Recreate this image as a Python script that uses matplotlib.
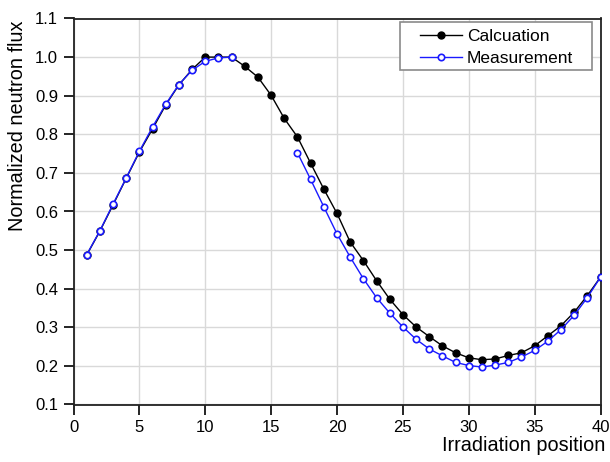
import numpy as np
import matplotlib
matplotlib.use("Agg")
import matplotlib.pyplot as plt
from matplotlib.patches import Rectangle

plt.rcParams['font.family'] = ['Liberation Sans', 'DejaVu Sans']

positions = list(range(1, 41))
calculation = [0.487, 0.549, 0.617, 0.686, 0.754, 0.814, 0.876, 0.928, 0.968, 1.000,
               1.000, 1.000, 0.976, 0.948, 0.901, 0.841, 0.793, 0.725, 0.658, 0.595,
               0.521, 0.473, 0.421, 0.373, 0.333, 0.301, 0.276, 0.252, 0.234, 0.221,
               0.216, 0.218, 0.227, 0.234, 0.252, 0.278, 0.304, 0.339, 0.382, 0.430]
measurement = [0.488, 0.550, 0.619, 0.687, 0.756, 0.819, 0.878, 0.929, 0.966, 0.989,
               0.998, 1.000, None, None, None, None, 0.752, 0.683, 0.612, 0.542,
               0.482, 0.426, 0.377, 0.337, 0.301, 0.269, 0.244, 0.226, 0.209, 0.201,
               0.197, 0.202, 0.209, 0.223, 0.240, 0.264, 0.294, 0.331, 0.377, 0.430]
meas = np.array([np.nan if v is None else v for v in measurement])

xticks = [0, 5, 10, 15, 20, 25, 30, 35, 40]
yticks = [0.1, 0.2, 0.3, 0.4, 0.5, 0.6, 0.7, 0.8, 0.9, 1.0, 1.1]

W, H = 610, 462
fig = plt.figure(figsize=(W/100, H/100), dpi=100)
ax = fig.add_axes([73.5/W, 1-404.5/H, (600.5-73.5)/W, (404.5-18.5)/H])

ax.plot(positions, calculation, color='black', lw=1.0, marker='o', ms=5,
        mfc='black', mec='black', label='Calcuation', zorder=3)
ax.plot(positions, meas, color='#1a1aff', lw=1.0, marker='o', ms=4.6,
        mfc='white', mec='#1a1aff', mew=1.2, label='Measurement', zorder=4)

ax.set_xlim(0, 40)
ax.set_ylim(0.1, 1.1)
ax.set_xticks(xticks)
ax.set_yticks(yticks)
ax.set_yticklabels([f"{v:.1f}" for v in yticks])
ax.grid(True, color='#d9d9d9', lw=1.0)
ax.set_axisbelow(True)
ax.tick_params(direction='out', length=7, width=1.2, labelsize=12, colors='black', pad=4)
for s in ax.spines.values():
    s.set_linewidth(1.3)
    s.set_color('#222222')

ax.set_xlabel('Irradiation position', fontsize=14.3, ha='right', x=1.01, labelpad=1)
ax.set_ylabel('Normalized neutron flux', fontsize=14.3, ha='right', y=0.995, labelpad=6)

# legend frame (drawn separately to reproduce the wide left padding)
frame = Rectangle((400/W, 1-70/H), 192/W, 47.7/H, transform=fig.transFigure,
                  facecolor='white', edgecolor='#8a8a8a', lw=1.2, zorder=4.5, clip_on=False)
ax.add_artist(frame)
leg = ax.legend(loc='upper left', bbox_to_anchor=(420/W, 1-28.5/H),
                bbox_transform=fig.transFigure, fontsize=12.5, frameon=False,
                borderaxespad=0, borderpad=0, handlelength=2.4, handletextpad=0.3,
                labelspacing=0.4)
leg.set_zorder(5)

fig.savefig('out.png', dpi=100)
